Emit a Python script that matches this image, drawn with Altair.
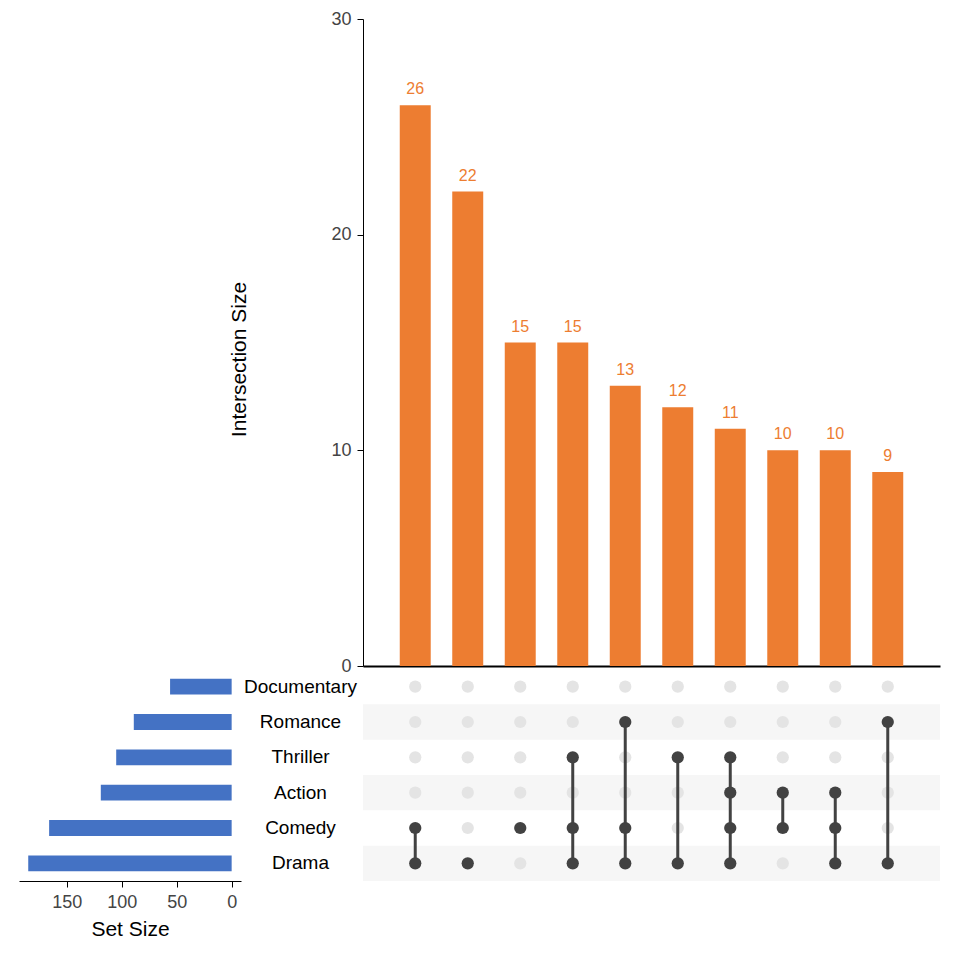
import altair as alt
import pandas as pd

# ---------------- data ----------------
sets = ["Documentary", "Romance", "Thriller", "Action", "Comedy", "Drama"]
set_sizes = [56, 89, 105, 119, 166, 185]

inter_ids = ["I1", "I2", "I3", "I4", "I5", "I6", "I7", "I8", "I9", "I10"]
inter_sizes = [26, 22, 15, 15, 13, 12, 11, 10, 10, 9]
inter_members = [
    ["Comedy", "Drama"],
    ["Drama"],
    ["Comedy"],
    ["Thriller", "Comedy", "Drama"],
    ["Romance", "Comedy", "Drama"],
    ["Thriller", "Drama"],
    ["Thriller", "Action", "Comedy", "Drama"],
    ["Action", "Comedy"],
    ["Action", "Comedy", "Drama"],
    ["Romance", "Drama"],
]
striped_sets = ["Romance", "Action", "Drama"]

ORANGE = "#ED7D31"
BLUE = "#4472C4"
DARK = "#424242"
LIGHT = "#E4E4E4"
STRIPE = "#F6F6F6"
FONT = "Liberation Sans"

W_SET, W_MAIN = 222, 577
H_TOP, H_MAT = 647, 212

inter_df = pd.DataFrame({"id": inter_ids, "size": inter_sizes})
set_df = pd.DataFrame({"set": sets, "size": set_sizes})

cells = []
for iid, mem in zip(inter_ids, inter_members):
    for s in sets:
        cells.append({"id": iid, "set": s, "member": s in mem})
cell_df = pd.DataFrame(cells)
empty_df = cell_df[~cell_df["member"]]
full_df = cell_df[cell_df["member"]]
line_df = full_df[full_df["id"].isin([i for i, m in zip(inter_ids, inter_members) if len(m) > 1])]
stripe_df = pd.DataFrame({"set": striped_sets})

xscale = alt.Scale(type="band", domain=inter_ids, paddingInner=0.41, paddingOuter=0.70)
yscale_mat = alt.Scale(type="band", domain=sets, paddingInner=0, paddingOuter=0)

# ---------------- intersection bars ----------------
bars = alt.Chart(inter_df).mark_bar(color=ORANGE).encode(
    x=alt.X("id:N", scale=xscale, sort=None,
            axis=alt.Axis(labels=False, ticks=False, title=None, grid=False,
                          domainColor="black", domainWidth=2)),
    y=alt.Y("size:Q", scale=alt.Scale(domain=[0, 30], nice=False),
            axis=alt.Axis(values=[0, 10, 20, 30], grid=False, title="Intersection Size",
                          domainColor="black", tickColor="black", tickSize=6,
                          labelFontSize=18, labelColor="#444444", labelFont=FONT,
                          labelPadding=6,
                          titleFontSize=21, titleFont=FONT, titleFontWeight="normal",
                          titleColor="black", titleX=-124, titleY=340,
                          titleAlign="center", titleBaseline="middle", titleAngle=270)),
)
bar_text = alt.Chart(inter_df).mark_text(color=ORANGE, dy=-16, fontSize=16, font=FONT,
                                         baseline="middle").encode(
    x=alt.X("id:N", scale=xscale, sort=None),
    y=alt.Y("size:Q"),
    text="size:Q",
)
top = (bars + bar_text).properties(width=W_MAIN, height=H_TOP)

# ---------------- placeholder ----------------
placeholder = alt.Chart(pd.DataFrame({"a": [0]})).mark_point(opacity=0).encode(
    x=alt.value(100), y=alt.value(300)
).properties(width=W_SET, height=H_TOP)

# ---------------- set size bars ----------------
setbars = alt.Chart(set_df).mark_bar(color=BLUE).encode(
    x=alt.X("size:Q", scale=alt.Scale(domain=[-8.5, 193.4], reverse=True, nice=False, zero=False),
            axis=alt.Axis(values=[0, 50, 100, 150], grid=False, title="Set Size",
                          domainColor="black", tickColor="black", tickSize=6,
                          labelFontSize=18, labelColor="#444444", labelFont=FONT,
                          labelPadding=6,
                          titleFontSize=21, titleFont=FONT, titleFontWeight="normal",
                          titleColor="black", titlePadding=7)),
    y=alt.Y("set:N", sort=sets, scale=alt.Scale(domain=sets, paddingInner=0.55, paddingOuter=0.275),
            axis=None),
).properties(width=W_SET, height=H_MAT)

# ---------------- matrix ----------------
stripes = alt.Chart(stripe_df).mark_rect(color=STRIPE).encode(
    y=alt.Y("set:N", scale=yscale_mat, sort=sets,
            axis=alt.Axis(title=None, domain=False, ticks=False, labelAlign="center",
                          labelPadding=63, labelFontSize=19, labelColor="black",
                          labelFont=FONT)),
    x=alt.value(0), x2=alt.value(W_MAIN),
)
empty_dots = alt.Chart(empty_df).mark_circle(size=150, color=LIGHT, opacity=1).encode(
    x=alt.X("id:N", scale=xscale, sort=None, axis=None),
    y=alt.Y("set:N", scale=yscale_mat, sort=sets),
)
lines = alt.Chart(line_df).mark_line(color=DARK, strokeWidth=3).encode(
    x=alt.X("id:N", scale=xscale, sort=None, axis=None),
    y=alt.Y("set:N", scale=yscale_mat, sort=sets),
    detail="id:N",
)
full_dots = alt.Chart(full_df).mark_circle(size=150, color=DARK, opacity=1).encode(
    x=alt.X("id:N", scale=xscale, sort=None, axis=None),
    y=alt.Y("set:N", scale=yscale_mat, sort=sets),
)
matrix = (stripes + empty_dots + lines + full_dots).properties(width=W_MAIN, height=H_MAT)

chart = alt.concat(
    placeholder, top, setbars, matrix,
    columns=2, spacing={"row": 3, "column": 122}, bounds="flush",
).properties(
    padding={"left": 19, "top": 10, "right": 5, "bottom": 5}
).configure(font=FONT, view=alt.ViewConfig(stroke=None))

chart.save("out.html", embed_options={"renderer": "svg", "actions": False})
